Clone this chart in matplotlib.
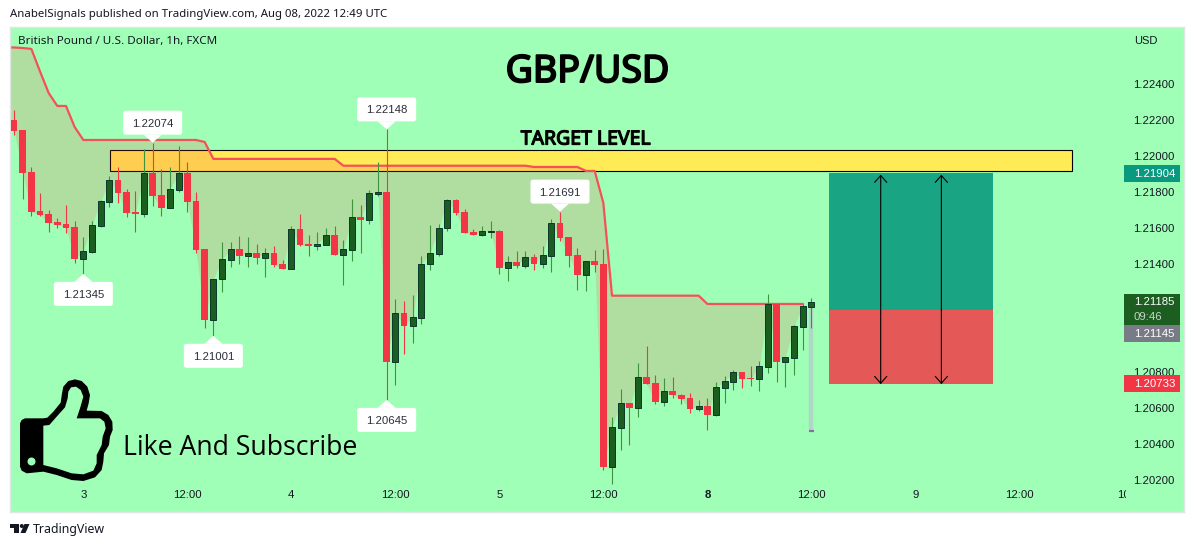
#!/usr/bin/env python3
"""GBP/USD 1h candle chart, TradingView style."""
import matplotlib
matplotlib.use("Agg")
import matplotlib.patheffects as pe
import matplotlib.pyplot as plt
import numpy as np
from matplotlib.patches import Circle, FancyBboxPatch, Polygon, Rectangle
from matplotlib.transforms import Affine2D

W, H = 1194, 547
PANE = (10, 27, 1184, 512)      # left, top, right, bottom in pixels
HOUR_PX = 8.667                 # one candle step
PRICE_PX = 18000                # pixels per 1.0 of price

BG, UP, UP_EDGE, UP_WICK = "#A0FFB6", "#1B5E20", "#0C3B2E", "#3C943F"
DOWN = "#F23645"
TEXT = "#131722"

opens = [1.22200, 1.22145, 1.21911, 1.21695, 1.21678, 1.21635, 1.21623, 1.21606,
         1.21430, 1.21469, 1.21613, 1.21746, 1.21867, 1.21800, 1.21689, 1.21680,
         1.21904, 1.21784, 1.21713, 1.21813, 1.21904, 1.21749, 1.21484, 1.21091,
         1.21315, 1.21424, 1.21482, 1.21446, 1.21460, 1.21435, 1.21460, 1.21400,
         1.21374, 1.21595, 1.21511, 1.21500, 1.21508, 1.21561, 1.21452, 1.21480,
         1.21661, 1.21646, 1.21789, 1.21800, 1.20858, 1.21126, 1.21058, 1.21102,
         1.21399, 1.21458, 1.21599, 1.21754, 1.21689, 1.21576, 1.21563, 1.21580,
         1.21582, 1.21380, 1.21410, 1.21391, 1.21438, 1.21402, 1.21446, 1.21626,
         1.21550, 1.21449, 1.21341, 1.21415, 1.21400, 1.20274, 1.20491, 1.20626,
         1.20602, 1.20771, 1.20739, 1.20634, 1.20693, 1.20673, 1.20656, 1.20595,
         1.20611, 1.20561, 1.20713, 1.20746, 1.20799, 1.20767, 1.20763, 1.20830,
         1.21176, 1.20858, 1.20880, 1.21052, 1.21163]
closes = [1.22141, 1.21908, 1.21691, 1.21673, 1.21630, 1.21617, 1.21600, 1.21428,
          1.21473, 1.21617, 1.21749, 1.21865, 1.21795, 1.21684, 1.21678, 1.21904,
          1.21778, 1.21713, 1.21815, 1.21904, 1.21745, 1.21478, 1.21091, 1.21315,
          1.21426, 1.21482, 1.21446, 1.21460, 1.21434, 1.21460, 1.21395, 1.21374,
          1.21593, 1.21506, 1.21500, 1.21511, 1.21560, 1.21450, 1.21482, 1.21660,
          1.21646, 1.21793, 1.21799, 1.20858, 1.21126, 1.21058, 1.21104, 1.21399,
          1.21460, 1.21600, 1.21754, 1.21685, 1.21574, 1.21561, 1.21582, 1.21582,
          1.21380, 1.21410, 1.21391, 1.21438, 1.21402, 1.21449, 1.21626, 1.21545,
          1.21446, 1.21341, 1.21415, 1.21395, 1.20274, 1.20495, 1.20626, 1.20600,
          1.20771, 1.20734, 1.20634, 1.20693, 1.20673, 1.20650, 1.20595, 1.20611,
          1.20561, 1.20715, 1.20749, 1.20799, 1.20761, 1.20763, 1.20832, 1.21176,
          1.20858, 1.20882, 1.21054, 1.21165, 1.21188]
highs = [1.22256, 1.22145, 1.21941, 1.21793, 1.21700, 1.21658, 1.21728, 1.21639,
         1.21550, 1.21639, 1.21756, 1.21889, 1.21941, 1.21817, 1.21806, 1.22039,
         1.22074, 1.21928, 1.21939, 1.22056, 1.21967, 1.21800, 1.21485, 1.21315,
         1.21523, 1.21524, 1.21556, 1.21550, 1.21511, 1.21488, 1.21500, 1.21423,
         1.21611, 1.21678, 1.21561, 1.21580, 1.21600, 1.21611, 1.21534, 1.21761,
         1.21726, 1.21811, 1.21967, 1.22148, 1.21206, 1.21195, 1.21228, 1.21445,
         1.21617, 1.21621, 1.21761, 1.21761, 1.21704, 1.21593, 1.21611, 1.21639,
         1.21589, 1.21445, 1.21473, 1.21473, 1.21456, 1.21500, 1.21649, 1.21691,
         1.21550, 1.21489, 1.21415, 1.21478, 1.21483, 1.20550, 1.20706, 1.20626,
         1.20850, 1.20945, 1.20784, 1.20767, 1.20773, 1.20678, 1.20684, 1.20645,
         1.20656, 1.20745, 1.20778, 1.20811, 1.20799, 1.20834, 1.20861, 1.21234,
         1.21176, 1.20882, 1.21061, 1.21178, 1.21211]
lows = [1.22117, 1.21761, 1.21669, 1.21667, 1.21580, 1.21602, 1.21574, 1.21408,
        1.21345, 1.21463, 1.21604, 1.21719, 1.21741, 1.21663, 1.21580, 1.21663,
        1.21724, 1.21669, 1.21713, 1.21802, 1.21691, 1.21463, 1.21046, 1.21001,
        1.21246, 1.21384, 1.21402, 1.21384, 1.21402, 1.21330, 1.21385, 1.21374,
        1.21374, 1.21502, 1.21445, 1.21478, 1.21508, 1.21450, 1.21284, 1.21417,
        1.21461, 1.21623, 1.21778, 1.20645, 1.20728, 1.20902, 1.20963, 1.21067,
        1.21367, 1.21446, 1.21585, 1.21671, 1.21574, 1.21561, 1.21556, 1.21546,
        1.21346, 1.21306, 1.21380, 1.21380, 1.21369, 1.21378, 1.21358, 1.21530,
        1.21385, 1.21256, 1.21250, 1.21358, 1.20256, 1.20180, 1.20367, 1.20395,
        1.20550, 1.20734, 1.20623, 1.20611, 1.20656, 1.20623, 1.20573, 1.20584,
        1.20478, 1.20556, 1.20628, 1.20700, 1.20711, 1.20723, 1.20695, 1.20795,
        1.20745, 1.20717, 1.20784, 1.20923, 1.21045]

# trailing stop, starts one hour left of the first candle
stop_line = ([1.22603, 1.22603, 1.22600, 1.22595, 1.22470, 1.22350, 1.22278, 1.22278,
              1.22161] + [1.22089] * 14 + [1.22078] + [1.21984] * 15 + [1.21946] * 22
             + [1.21939] * 6 + [1.21917] * 2 + [1.21739] + [1.21224] * 11 + [1.21178] * 12)
close_before_first = 1.22170

zone_top, zone_bottom = 1.22033, 1.21919
zone_start, zone_end = 11.08, 122.07
target, entry, stop = 1.21904, 1.21145, 1.20733
position_start, position_end = 94, 113
arrow_hours = [100, 107]
proj_top, proj_bottom = 1.21163, 1.20471

# hour, price, +1 box above the point, -1 box below
callouts = [(16, 1.22074, 1), (8, 1.21345, -1), (23, 1.21001, -1),
            (43, 1.22148, 1), (63, 1.21691, 1), (43, 1.20645, -1)]

# 1.212 and 1.210 sit behind the live price labels
price_ticks = [1.22400, 1.22200, 1.22000, 1.21800, 1.21600, 1.21400,
               1.20800, 1.20600, 1.20400, 1.20200]
hour_ticks = [8, 20, 32, 44, 56, 68, 80, 92, 104, 116, 128]
hour_labels = ["3", "12:00", "4", "12:00", "5", "12:00", "8", "12:00", "9", "12:00", "10"]

plt.rcParams["font.family"] = ["Liberation Sans", "DejaVu Sans"]
NOTO = ["Noto Sans", "DejaVu Sans"]
LABEL_SIZE = 8.2

fig = plt.figure(figsize=(W / 100, H / 100), dpi=100, facecolor="white")
px = Affine2D().scale(1 / W, -1 / H).translate(0, 1) + fig.transFigure


def px_text(x, y, s, **kw):
    kw.setdefault("color", TEXT)
    kw.setdefault("va", "center")
    return fig.text(x, y, s, transform=px, **kw)


def px_patch(patch, zorder=8):
    patch.set_transform(px)
    patch.set_zorder(zorder)
    fig.add_artist(patch)


left, top, right, bottom = PANE
ax = fig.add_axes([left / W, 1 - bottom / H, (right - left) / W, (bottom - top) / H])
ax.set_facecolor(BG)
ax.set_xlim((left - 14) / HOUR_PX, (right - 14) / HOUR_PX)
ax.set_ylim(1.22 - (bottom - 156) / PRICE_PX, 1.22 + (156 - top) / PRICE_PX)
for sp in ax.spines.values():
    sp.set_color("#E0E6E3")
    sp.set_linewidth(1)

ax.yaxis.tick_right()
ax.set_yticks(price_ticks, [f"{p:.5f}" for p in price_ticks])
ax.tick_params(axis="y", length=0, pad=-36.5, labelsize=LABEL_SIZE, labelcolor=TEXT)
ax.set_xticks(hour_ticks, hour_labels)
ax.tick_params(axis="x", length=0, pad=-15.5, labelsize=LABEL_SIZE, labelcolor=TEXT)
ax.get_xticklabels()[6].set_fontweight("bold")

hours = np.arange(len(closes))
opens_a, closes_a = np.array(opens), np.array(closes)
rising = closes_a >= opens_a

# supply zone goes first so the shading tints it orange
ax.add_patch(Rectangle((zone_start, zone_bottom), zone_end - zone_start, zone_top - zone_bottom,
                       facecolor="#FFEB55", edgecolor="black", lw=0.8, zorder=2))

stop_hours = np.arange(-1, len(stop_line) - 1)
ax.fill_between(stop_hours, stop_line, [close_before_first] + closes[:len(stop_line) - 1],
                color="#FF3D39", alpha=0.17, lw=0, zorder=2.2)
ax.plot(stop_hours, stop_line, color="#F4515A", lw=1.6, solid_joinstyle="round", zorder=2.4)

# position tool
ax.add_patch(Rectangle((position_start, entry), position_end - position_start, target - entry,
                       color="#19A584", lw=0, zorder=2))
ax.add_patch(Rectangle((position_start, stop), position_end - position_start, entry - stop,
                       color="#E55858", lw=0, zorder=2))
for h in arrow_hours:
    ax.annotate("", xy=(h, target), xytext=(h, stop),
                arrowprops=dict(arrowstyle="<->,head_length=0.45,head_width=0.4", color="black",
                                lw=0.8, shrinkA=0, shrinkB=1, mutation_scale=11), zorder=3)

# projected low of the live bar
ax.vlines(hours[-1], proj_bottom, proj_top, color="#AFD8C4", lw=3.2, zorder=2.6)
ax.hlines(proj_bottom, hours[-1] - 0.33, hours[-1] + 0.33, color="#9C5FC0", lw=1.6, zorder=2.7)

# candles
ax.vlines(hours[rising], np.array(lows)[rising], np.array(highs)[rising],
          color=UP_WICK, lw=0.8, zorder=3)
ax.vlines(hours[~rising], np.array(lows)[~rising], np.array(highs)[~rising],
          color=DOWN, lw=0.8, zorder=3)
ax.bar(hours[rising], (closes_a - opens_a)[rising], bottom=opens_a[rising], width=0.7,
       color=UP, edgecolor=UP_EDGE, lw=0.72, zorder=3.5)
ax.bar(hours[~rising], (closes_a - opens_a)[~rising], bottom=opens_a[~rising], width=0.8,
       color=DOWN, lw=0, zorder=3.5)

# price callouts, sized in pixels through the two scales
dx, dy = 1 / HOUR_PX, 1 / PRICE_PX
for h, price, side in callouts:
    base = price + side * 8 * dy
    ax.add_patch(Polygon([(h, price), (h - 9 * dx, base), (h + 9 * dx, base)],
                         facecolor="white", lw=0, zorder=4))
    y0 = base if side > 0 else base - 24 * dy
    ax.add_patch(FancyBboxPatch((h - 29.5 * dx, y0), 59 * dx, 24 * dy,
                                boxstyle=f"round,pad=0,rounding_size={2.5 * dx}",
                                mutation_aspect=dy / dx, facecolor="white", lw=0, zorder=4))
    ax.text(h, y0 + 12 * dy, f"{price:.5f}", ha="center", va="center_baseline",
            fontsize=LABEL_SIZE, color="#2A2E39", zorder=5)

# price scale labels
for y0, y1, colour, label in [(165, 182, "#089981", "1.21904"), (294, 325, UP, None),
                              (325, 342, "#787B86", "1.21145"), (375, 392, DOWN, "1.20733")]:
    px_patch(Rectangle((1124, y0), 56, y1 - y0, color=colour, lw=0))
    if label:
        px_text(1134, (y0 + y1) / 2 + 0.5, label, color="white", fontsize=LABEL_SIZE, zorder=9)
px_text(1134, 302, "1.21185", color="white", fontsize=LABEL_SIZE, zorder=9)
px_text(1134, 317, "09:46", color="#C5D5C5", fontsize=LABEL_SIZE, zorder=9)
px_text(1134, 41, "USD", fontsize=8)

# the last date label is cut by the price scale
px_patch(Rectangle((1125.5, 490), 8, 16, color=BG, lw=0), zorder=8)

# chart annotations
px_text(587.5, 72, "GBP/USD", ha="center", fontsize=27, family=NOTO, color="black", zorder=9,
        path_effects=[pe.withStroke(linewidth=1.4, foreground="black")])
px_text(585.5, 139.5, "TARGET LEVEL", ha="center", fontsize=14, family=NOTO, color="black",
        zorder=9, path_effects=[pe.withStroke(linewidth=0.9, foreground="black")])
px_text(123, 448, "Like And Subscribe", fontsize=19.2,
        family=["Open Sans", "DejaVu Sans"], color="black", zorder=9)

# thumbs up icon, outline traced in 3x units
thumb_out = [(130, 145), (142, 143), (160, 125), (182, 98), (186, 70), (190, 50), (205, 33),
             (225, 28), (245, 33), (262, 50), (270, 75), (266, 100), (260, 122), (305, 123),
             (325, 135), (337, 155), (338, 180), (330, 200), (327, 225), (312, 250), (310, 275),
             (305, 300), (285, 322), (250, 333), (215, 330), (170, 315), (130, 305), (80, 310),
             (65, 302), (60, 290), (60, 160), (65, 150), (75, 145)]
thumb_in = [(130, 167), (148, 165), (170, 140), (195, 112), (203, 85), (205, 65), (213, 52),
            (228, 50), (242, 60), (250, 80), (240, 115), (230, 145), (300, 145), (313, 155),
            (317, 175), (308, 200), (305, 225), (290, 255), (290, 280), (280, 302), (250, 313),
            (215, 310), (170, 295), (130, 285)]
to_px = lambda pts: [(x / 3, 370 + y / 3) for x, y in pts]
px_patch(Polygon(to_px(thumb_out), facecolor="black", lw=0))
px_patch(Polygon(to_px(thumb_in), facecolor=BG, lw=0), zorder=8.1)
px_patch(Circle((31.5, 461.5), 4, facecolor=BG, lw=0), zorder=8.1)

# page header and footer
px_text(10, 14.5, "AnabelSignals published on TradingView.com, Aug 08, 2022 12:49 UTC",
        fontsize=8.2, family=NOTO)
px_text(18, 41.5, "British Pound / U.S. Dollar, 1h, FXCM", fontsize=8.4, family=NOTO, zorder=9)
px_patch(Polygon([(10, 524), (19, 524), (19, 533), (14, 533), (14, 528), (10, 528)],
                 facecolor="#131722", lw=0))
px_patch(Circle((21.8, 526), 2, facecolor="#131722", lw=0))
px_patch(Polygon([(29.5, 524), (25.5, 533), (20.5, 533), (24.5, 524)],
                 facecolor="#131722", lw=0))
px_text(33, 530, "TradingView", fontsize=8.9, family=NOTO)

fig.savefig("out.png", dpi=100)
